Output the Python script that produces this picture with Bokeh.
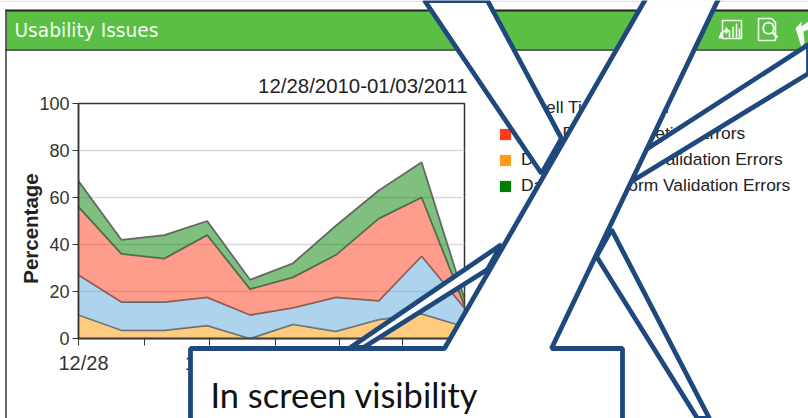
import math
from bokeh.embed import file_html
from bokeh.resources import INLINE
from bokeh.plotting import figure
from bokeh.models import (FixedTicker, Label, Legend, LegendItem, PolyAnnotation,
                          Range1d)

# ---- chart data ----
points = [0, 1, 2, 3, 4, 5, 6, 7, 8, 9]
cognitive = [10, 3.5, 3.5, 5.5, 0, 6, 3, 8, 10.5, 5]
dwell = [17, 12, 12, 12, 10, 7, 14.5, 8, 24.5, 8]
completion = [29, 20.5, 18.5, 26.5, 11, 13, 18, 35, 25, 1]
form_errors = [11, 6, 10, 6, 4, 6, 12.5, 12, 15, 3]
area_colors = ["#FF9900", "#5BA8DC", "#FF3B1A", "#008000"]
x_ticks = [0, 1.55, 3.06, 4.6, 6.08, 7.55]
y_ticks = [0, 20, 40, 60, 80, 100]
x_tick_labels = ["12/28", "12/30", "01/01"]
x_label_ticks = [0, 3.06, 6.08]
x_label_shift = [5, 0, 0]
# Words under the white shapes are hidden in the reference.
legend_labels = ["Dwell Time Section", "Data Field Completion Errors",
                 "Data Entry Field\u00a0 Validation Errors", "Data Entry\u00a0\u00a0 Form Validation Errors"]
legend_colors = ["#5BA8DC", "#FF3B1A", "#FF9A1E", "#007F00"]
title_text = "12/28/2010-01/03/2011"
header_text = "Usability Issues"
y_label_text = "Percentage"
callout_text = "In screen visibility"

# ---- page geometry ----
LEFT, RIGHT, TOP, BOTTOM = 78, 464, 103, 338
W, H = 808, 418
sx = (RIGHT - LEFT) / 9.0

# ---- chart figure: real scales and axes ----
p = figure(width=W, height=H, output_backend="svg", toolbar_location=None,
           x_range=Range1d(0, 9), y_range=Range1d(0, 100),
           min_border_left=LEFT, min_border_right=W - RIGHT,
           min_border_top=TOP, min_border_bottom=H - BOTTOM,
           background_fill_color="white", border_fill_color="white")

p.xgrid.visible = False
p.ygrid.ticker = FixedTicker(ticks=[20, 40, 60, 80])
p.ygrid.grid_line_color = "#d9d9d9"
p.ygrid.grid_line_width = 1.5
p.outline_line_color = "#333333"
p.outline_line_width = 1.5

p.yaxis.ticker = FixedTicker(ticks=y_ticks)
p.yaxis.major_label_text_font = "Liberation Sans"
p.yaxis.major_label_text_font_size = "18px"
p.yaxis.major_label_text_color = "#333333"
p.yaxis.major_label_standoff = 3
p.yaxis.major_tick_in = 0
p.yaxis.major_tick_out = 6
p.yaxis.minor_tick_line_color = None
p.yaxis.axis_line_color = "#333333"
p.yaxis.axis_line_width = 1.5
p.yaxis.major_tick_line_color = "#333333"

p.xaxis.ticker = FixedTicker(ticks=x_ticks)
p.xaxis.major_label_overrides = {t: "" for t in x_ticks}
p.xaxis.major_label_text_font_size = "1px"
p.xaxis.major_tick_in = 0
p.xaxis.major_tick_out = 7
p.xaxis.minor_tick_line_color = None
p.xaxis.axis_line_color = "#444444"
p.xaxis.axis_line_width = 2
p.xaxis.major_tick_line_color = "#333333"

base = [0.0] * len(points)
for vals, color in zip([cognitive, dwell, completion, form_errors], area_colors):
    top = [b + v for b, v in zip(base, vals)]
    p.varea(x=points, y1=base, y2=top, fill_color=color, fill_alpha=0.5)
    p.line(x=points, y=top, line_color="#555555", line_width=1.8, line_alpha=0.85)
    base = top

# ---- transparent page overlays, in page pixels ----
def overlay():
    f = figure(width=W, height=H, output_backend="svg", toolbar_location=None,
               x_range=Range1d(0, W), y_range=Range1d(H, 0),
               min_border=0, background_fill_alpha=0, border_fill_alpha=0)
    f.axis.visible = False
    f.grid.visible = False
    f.outline_line_color = None
    f.margin = (-H, 0, 0, 0)
    return f

o = overlay()   # panel chrome, titles and legend
c = overlay()   # callout shapes, above everything else

def poly(xs, ys, fill=None, line=None, width=1.0, fig=o):
    fig.add_layout(PolyAnnotation(xs=list(xs), ys=list(ys),
                                  fill_color=fill, fill_alpha=1 if fill else 0,
                                  line_color=line, line_alpha=1 if line else 0,
                                  line_width=width, editable=False))

def text(s, px, py, font, size, color, align="left", style="normal", angle=0.0, fig=o):
    fig.add_layout(Label(x=px, y=py, text=s, text_font=font, text_font_size=size,
                         text_color=color, text_align=align, text_baseline="middle",
                         text_font_style=style, angle=angle))

# legend: solid swatches come from off-page area renderers
items = []
for name, color in zip(legend_labels, legend_colors):
    r = o.varea(x=[-20, -10], y1=[-20, -20], y2=[-10, -10], fill_color=color)
    items.append(LegendItem(label=name, renderers=[r]))
legend = Legend(items=items, location=(498, 222), orientation="vertical",
                background_fill_alpha=0, border_line_color=None, margin=0, padding=0,
                glyph_width=14, glyph_height=14, label_height=14, spacing=5,
                label_standoff=9, label_text_font="Liberation Sans",
                label_text_font_size="17.4px", label_text_color="#222222")
o.add_layout(legend, "center")

# panel chrome
poly([0, 808, 808, 0], [0, 0, 1.5, 1.5], fill="#E2E2E2")
poly([6, 808, 808, 6], [10, 10, 49, 49], fill="#5BBF46")
poly([5, 808], [10, 10], line="#222222", width=2)
poly([5, 808], [49.5, 49.5], line="#333333", width=1.5)
poly([5.5, 5.5], [9, 425], line="#333333", width=1.5)
text(header_text, 14, 30, "DejaVu Sans", "18.6px", "#F2FAEE")

# header icons (white outlines)
ICON = "#F4FBF2"
poly([722, 741, 741, 722], [20, 20, 38, 38], line=ICON, width=1.5)
for bx, bt in zip([729, 732.5, 736, 739], [30, 26, 23, 28]):
    poly([bx, bx], [bt, 37], line=ICON, width=1.6)
poly([718, 720, 725, 725, 729, 725, 725, 722, 721], [38, 32, 29, 26, 30, 34, 31, 33, 38], fill=ICON)
poly([758, 771, 775, 775, 758], [18, 18, 22, 40, 40], line=ICON, width=1.6)
poly([768, 772, 773.5, 772, 768, 764, 762.5, 764], [22, 23.5, 28, 32, 33.5, 32, 28, 23.5], line=ICON, width=1.8)
poly([772, 777], [32, 37], line=ICON, width=2.4)
poly([795, 801, 801, 808, 808, 803, 804, 801, 797], [28, 21, 26, 21, 29, 31, 42, 47, 34], fill=ICON)

# chart title, y label and x tick labels
text(title_text, 467, 85, "Liberation Sans", "20.4px", "#222222", align="right")
text(y_label_text, 30, 228, "Liberation Sans", "20.5px", "#222222", align="center",
     style="bold", angle=math.pi / 2)
for tick, lab, shift in zip(x_label_ticks, x_tick_labels, x_label_shift):
    text(lab, LEFT + tick * sx + shift, 362, "Liberation Sans", "20px", "#333333", align="center")

# callout shapes on top of everything
NAVY = "#1F497D"
LW = 4.8
poly([424, 487, 561, 541], [0, 0, 138, 173], fill="white", line=NAVY, width=LW, fig=c)
poly([808, 808, 631, 644], [44, 73, 181, 150], fill="white", line=NAVY, width=LW, fig=c)
poly([611, 709, 697, 596], [229, 418, 418, 256], fill="white", line=NAVY, width=LW, fig=c)
poly([501, 487, 363, 350], [244, 269, 347, 347], fill="white", line=NAVY, width=LW, fig=c)
poly([190, 444, 650, 722, 551, 622, 622, 190],
     [348, 348, -10, -10, 348, 348, 430, 430], fill="white", line=NAVY, width=LW, fig=c)
text(callout_text, 210, 394, "Lato", "34.4px", "#111111", fig=c)

open("out.html", "w").write(file_html([p, o, c], INLINE))
